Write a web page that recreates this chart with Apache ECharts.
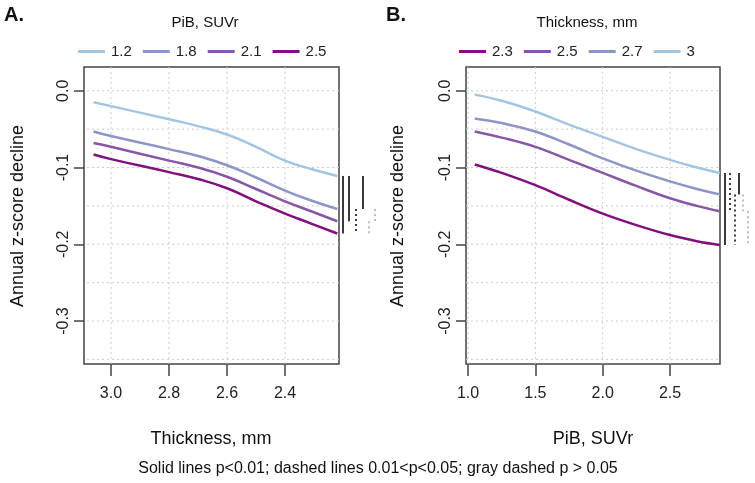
<!DOCTYPE html>
<html><head><meta charset="utf-8">
<script src="https://cdn.jsdelivr.net/npm/echarts@6/dist/echarts.min.js"></script>
<style>html,body{margin:0;padding:0;background:#fff}#c{width:755px;height:483px}</style>
</head><body><div id="c"></div>
<script>
// ---------- data ----------
const thicknessX = [3.06, 3.0, 2.8, 2.7, 2.6, 2.5, 2.4, 2.31, 2.22];
const pibNamesA = ['1.2', '1.8', '2.1', '2.5'];
const pibA_12 = [-0.015, -0.020, -0.037, -0.046, -0.057, -0.073, -0.091, -0.102, -0.111];
const pibA_18 = [-0.053, -0.059, -0.076, -0.085, -0.097, -0.113, -0.130, -0.143, -0.154];
const pibA_21 = [-0.068, -0.073, -0.091, -0.100, -0.112, -0.128, -0.144, -0.157, -0.170];
const pibA_25 = [-0.083, -0.089, -0.106, -0.115, -0.127, -0.144, -0.160, -0.173, -0.186];

const pibX = [1.05, 1.25, 1.5, 1.75, 2.0, 2.25, 2.5, 2.7, 2.87];
const thickNamesB = ['2.3', '2.5', '2.7', '3'];
const thkB_23 = [-0.096, -0.107, -0.123, -0.142, -0.160, -0.175, -0.188, -0.196, -0.201];
const thkB_25 = [-0.053, -0.061, -0.073, -0.090, -0.107, -0.124, -0.140, -0.150, -0.157];
const thkB_27 = [-0.036, -0.042, -0.053, -0.070, -0.088, -0.104, -0.118, -0.128, -0.135];
const thkB_3  = [-0.005, -0.013, -0.027, -0.044, -0.060, -0.076, -0.090, -0.100, -0.107];

const yTicks = [0, -0.1, -0.2, -0.3];
const yGrid = [0, -0.05, -0.1, -0.15, -0.2, -0.25, -0.3, -0.35];
const xTicksA = [3.0, 2.8, 2.6, 2.4];
const xTicksB = [1.0, 1.5, 2.0, 2.5];

// significance comparisons: [series i, series j, kind]
const sigA = [[0, 3, 'solid'], [0, 2, 'solid'], [1, 3, 'dotted'], [0, 1, 'solid'], [2, 3, 'gray'], [1, 2, 'gray']];
const sigB = [[3, 0, 'solid'], [3, 1, 'dotted'], [2, 0, 'dotted'], [3, 2, 'solid'], [2, 1, 'gray'], [1, 0, 'gray']];

// ---------- style ----------
const colA = ['#a3c5e4', '#8c96c6', '#8856a7', '#810f7c'];
const colB = ['#810f7c', '#8856a7', '#8c96c6', '#a3c5e4'];
const laneA = [4, 10, 17, 24, 30, 36];
const laneB = [5, 10, 15, 19, 23, 28];
const FONT = "'Liberation Sans', Arial, Helvetica, sans-serif";
const yMin = -0.356, yMax = 0.031;
const xARange = [2.214, 3.093];
const xBRange = [0.985, 2.871];

const seriesA = [pibA_12, pibA_18, pibA_21, pibA_25];
const seriesB = [thkB_23, thkB_25, thkB_27, thkB_3];

function pts(xs, ys) { return xs.map((x, i) => [x, ys[i]]); }

const gridStyle = { color: '#cdcdcd', type: [2, 3], width: 1 };
function gridSeries(idx, xr, xt) {
  const out = [];
  yGrid.forEach(v => out.push({
    type: 'line', xAxisIndex: idx, yAxisIndex: idx, silent: true, z: 1, symbol: 'none',
    data: [[xr[0], v], [xr[1], v]], lineStyle: gridStyle
  }));
  xt.forEach(v => out.push({
    type: 'line', xAxisIndex: idx, yAxisIndex: idx, silent: true, z: 1, symbol: 'none',
    data: [[v, yMin], [v, yMax]], lineStyle: gridStyle
  }));
  return out;
}

function sigSeries(idx, sig, lanes, ends, xEnd) {
  return {
    type: 'custom', xAxisIndex: idx, yAxisIndex: idx, clip: false, silent: true, z: 5,
    data: sig.map((s, k) => [xEnd, ends[s[0]], ends[s[1]], k, s[2] === 'solid' ? 0 : (s[2] === 'dotted' ? 1 : 2)]),
    renderItem: function (params, api) {
      const p1 = api.coord([api.value(0), api.value(1)]);
      const p2 = api.coord([api.value(0), api.value(2)]);
      const x = p1[0] + lanes[api.value(3)];
      const kind = api.value(4);
      return {
        type: 'line',
        shape: { x1: x, y1: p1[1], x2: x, y2: p2[1] },
        style: {
          stroke: kind === 2 ? '#bdbdbd' : '#3a3a3a',
          lineWidth: 2,
          lineDash: kind === 0 ? null : [2, 3]
        }
      };
    }
  };
}

const series = [].concat(gridSeries(0, xARange, xTicksA), gridSeries(1, xBRange, xTicksB));
pibNamesA.forEach((n, i) => series.push({
  name: n, type: 'line', xAxisIndex: 0, yAxisIndex: 0, data: pts(thicknessX, seriesA[i]),
  symbol: 'none', smooth: 0.5, z: 3, lineStyle: { color: colA[i], width: 2.5 }, itemStyle: { color: colA[i] }
}));
thickNamesB.forEach((n, i) => series.push({
  name: n, type: 'line', xAxisIndex: 1, yAxisIndex: 1, data: pts(pibX, seriesB[i]),
  symbol: 'none', smooth: 0.4, z: 3, lineStyle: { color: colB[i], width: 2.5 }, itemStyle: { color: colB[i] }
}));
series.push(sigSeries(0, sigA, laneA, seriesA.map(a => a[a.length - 1]), xARange[0]));
series.push(sigSeries(1, sigB, laneB, seriesB.map(a => a[a.length - 1]), xBRange[1]));

function yAxis(idx) {
  return {
    type: 'value', gridIndex: idx, min: yMin, max: yMax,
    axisLine: { show: false, onZero: false },
    splitLine: { show: false },
    axisTick: { show: true, length: 10, customValues: yTicks, lineStyle: { color: '#444', width: 1.5 } },
    axisLabel: { customValues: yTicks, rotate: 90, margin: 12, color: '#222', fontSize: 16, fontFamily: FONT,
      formatter: v => v.toFixed(1) }
  };
}
function xAxis(idx, range, ticks, inverse) {
  return {
    type: 'value', gridIndex: idx, min: range[0], max: range[1], inverse: inverse,
    axisLine: { show: false, onZero: false },
    splitLine: { show: false },
    axisTick: { show: true, length: 12, customValues: ticks, lineStyle: { color: '#444', width: 1.5 } },
    axisLabel: { customValues: ticks, margin: 22, color: '#222', fontSize: 16, fontFamily: FONT,
      formatter: v => v.toFixed(1) }
  };
}

function legend(left, names, cols) {
  return {
    left: left, top: 39, itemWidth: 27, itemHeight: 3, itemGap: 11, icon: 'rect',
    selectedMode: false,
    textStyle: { fontSize: 15, color: '#222', fontFamily: FONT, padding: [0, 0, 0, 1] },
    data: names.map((n, i) => ({ name: n, itemStyle: { color: cols[i] } }))
  };
}

function txt(x, y, text, size, opts) {
  return Object.assign({
    type: 'text', x: x, y: y, silent: true,
    style: { text: text, font: (opts && opts.bold ? 'bold ' : '') + size + 'px ' + FONT, fill: '#111',
      align: 'center', verticalAlign: 'middle' }
  }, opts && opts.rot ? { rotation: opts.rot } : {});
}

const chart = echarts.init(document.getElementById('c'), null, { renderer: 'canvas' });
chart.setOption({
  animation: false,
  backgroundColor: '#fff',
  grid: [
    { left: 84, top: 67, width: 255, height: 297, show: true, borderColor: '#444', borderWidth: 1.5 },
    { left: 466, top: 67, width: 254, height: 297, show: true, borderColor: '#444', borderWidth: 1.5 }
  ],
  xAxis: [xAxis(0, xARange, xTicksA, true), xAxis(1, xBRange, xTicksB, false)],
  yAxis: [yAxis(0), yAxis(1)],
  legend: [legend(73, pibNamesA, colA), legend(454, thickNamesB, colB)],
  graphic: [
    txt(14, 15, 'A.', 20, { bold: true }),
    txt(396, 15, 'B.', 20, { bold: true }),
    txt(205, 23, 'PiB, SUVr', 15),
    txt(587, 23, 'Thickness, mm', 15),
    txt(211, 439, 'Thickness, mm', 18),
    txt(593, 439, 'PiB, SUVr', 18),
    txt(18, 216, 'Annual z-score decline', 18, { rot: Math.PI / 2 }),
    txt(398, 216, 'Annual z-score decline', 18, { rot: Math.PI / 2 }),
    txt(378, 469, 'Solid lines p<0.01; dashed lines 0.01<p<0.05; gray dashed p > 0.05', 16)
  ],
  series: series
});
</script>
</body></html>
